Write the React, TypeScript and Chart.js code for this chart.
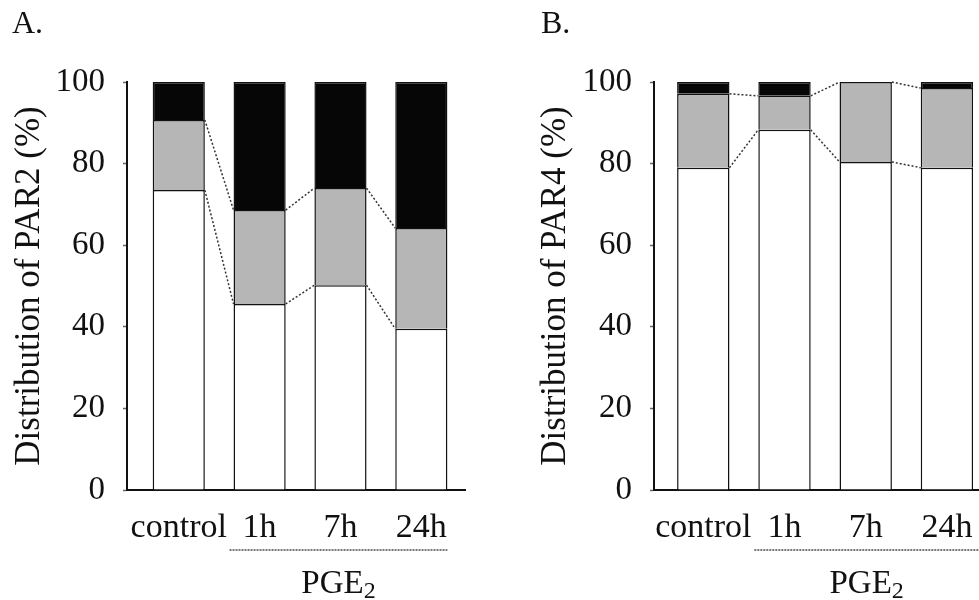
import React, { useEffect, useRef } from "react";
import { Chart, registerables } from "chart.js";
Chart.register(...registerables);

// ---- data ----
const categories = ["control", "1h", "7h", "24h"];
const tickStep = 20;
const yMin = 0;
const yMax = 100;
// PAR2 (panel A) segment percentages: white (bottom), gray (middle), black (top)
const par2White = [73.5, 45.6, 50.2, 39.5];
const par2Gray = [17.2, 23.0, 23.8, 24.7];
const par2Black = [9.3, 31.4, 26.0, 35.8];
// PAR4 (panel B)
const par4White = [79.0, 88.3, 80.4, 79.0];
const par4Gray = [18.1, 8.3, 19.6, 19.5];
const par4Black = [2.9, 3.4, 0, 1.5];
const treatmentName = "PGE";
const treatmentSub = "2";
const treatedFirst = 1;
const treatedLast = 3;

const FONT = "'Liberation Serif', 'Times New Roman', serif";
const INK = "#111111";

type PanelProps = {
  letter: string;
  yTitle: string;
  white: number[];
  gray: number[];
  black: number[];
  left: number;
  width: number;
  axisWidth: number;
  padRight: number;
  xMin: number;
  xMax: number;
  titlePad: number;
  letterX: number;
  underlineExtra: number;
};

function Panel(p: PanelProps) {
  const ref = useRef<HTMLCanvasElement | null>(null);
  useEffect(() => {
    if (!ref.current) return;
    const decor = {
      id: "decor",
      afterDatasetsDraw(chart: any) {
        const ctx = chart.ctx;
        ctx.save();
        ctx.setLineDash([2, 2]);
        ctx.strokeStyle = "#333333";
        ctx.lineWidth = 1.5;
        [0, 1].forEach((d) => {
          const els = chart.getDatasetMeta(d).data;
          for (let i = 0; i < els.length - 1; i++) {
            const a = els[i].getProps(["x", "y", "width"], true);
            const b = els[i + 1].getProps(["x", "y", "width"], true);
            ctx.beginPath();
            ctx.moveTo(a.x + a.width / 2, a.y);
            ctx.lineTo(b.x - b.width / 2, b.y);
            ctx.stroke();
          }
        });
        ctx.restore();
      },
      afterDraw(chart: any) {
        const ctx = chart.ctx;
        const xs = chart.scales.x;
        const area = chart.chartArea;
        const els = chart.getDatasetMeta(0).data;
        const half = els[0].getProps(["width"], true).width / 2;
        ctx.save();
        // panel letter
        ctx.fillStyle = INK;
        ctx.font = `32px ${FONT}`;
        ctx.textBaseline = "alphabetic";
        ctx.textAlign = "left";
        ctx.fillText(p.letter, p.letterX, 33);
        // underline for treated group
        const x1 = xs.getPixelForValue(treatedFirst) - half - 4;
        const x2 = xs.getPixelForValue(treatedLast) + half + p.underlineExtra;
        const uy = area.bottom + 60;
        ctx.strokeStyle = "#777777";
        ctx.lineWidth = 2;
        ctx.setLineDash([2, 1]);
        ctx.beginPath();
        ctx.moveTo(x1, uy);
        ctx.lineTo(x2, uy);
        ctx.stroke();
        ctx.setLineDash([]);
        // PGE2 label
        const mainFont = `33px ${FONT}`;
        const subFont = `24px ${FONT}`;
        ctx.font = mainFont;
        const w1 = ctx.measureText(treatmentName).width;
        ctx.font = subFont;
        const w2 = ctx.measureText(treatmentSub).width;
        const cx = (x1 + Math.min(x2, chart.width)) / 2;
        const sx = cx - (w1 + w2) / 2;
        const by = area.bottom + 103;
        ctx.font = mainFont;
        ctx.fillText(treatmentName, sx, by);
        ctx.font = subFont;
        ctx.fillText(treatmentSub, sx + w1, by + 5);
        ctx.restore();
      },
    };

    const mk = (arr: number[]) => arr.map((v, i) => ({ x: i, y: v }));
    const common = {
      borderColor: INK,
      borderWidth: 1.5,
      categoryPercentage: 1,
      barPercentage: 0.645,
    };
    const chart = new Chart(ref.current, {
      type: "bar",
      data: {
        datasets: [
          { label: "white", data: mk(p.white), backgroundColor: "#ffffff", ...common },
          { label: "gray", data: mk(p.gray), backgroundColor: "#b6b6b6", ...common },
          { label: "black", data: mk(p.black), backgroundColor: "#060606", ...common },
        ],
      },
      options: {
        animation: false,
        responsive: true,
        maintainAspectRatio: false,
        layout: { padding: { left: 0, right: p.padRight, top: 82, bottom: 0 } },
        plugins: { legend: { display: false }, tooltip: { enabled: false } },
        scales: {
          x: {
            type: "linear",
            stacked: true,
            offset: false,
            min: p.xMin,
            max: p.xMax,
            afterBuildTicks: (axis: any) => {
              axis.ticks = categories.map((_, i) => ({ value: i }));
            },
            afterFit: (axis: any) => {
              axis.height = 110;
              axis.paddingLeft = 0;
              axis.paddingRight = 0;
            },
            ticks: {
              autoSkip: false,
              maxRotation: 0,
              padding: 18,
              color: INK,
              font: { family: FONT, size: 34 },
              callback: (v: any) => categories[v] ?? "",
            },
            grid: { display: false, drawTicks: false },
            border: { display: true, color: INK, width: 2 },
          },
          y: {
            stacked: true,
            min: yMin,
            max: yMax,
            afterFit: (axis: any) => {
              axis.width = p.axisWidth;
              axis.paddingTop = 0;
              axis.paddingBottom = 0;
            },
            ticks: {
              stepSize: tickStep,
              padding: 18,
              color: INK,
              font: { family: FONT, size: 33 },
            },
            grid: {
              drawOnChartArea: false,
              drawTicks: true,
              tickLength: 4,
              tickColor: "#666666",
              tickWidth: 1.5,
            },
            border: { display: true, color: INK, width: 2 },
            title: {
              display: true,
              text: p.yTitle,
              color: INK,
              font: { family: FONT, size: 35 },
              padding: { top: p.titlePad, bottom: 0 },
            },
          },
        },
      },
      plugins: [decor],
    } as any);
    return () => chart.destroy();
  }, []);
  return (
    <div
      style={{
        position: "absolute",
        left: p.left,
        top: 0,
        width: p.width,
        height: 600,
      }}
    >
      <canvas ref={ref} />
    </div>
  );
}

export default function App() {
  return (
    <div
      style={{
        position: "fixed",
        left: 0,
        top: 0,
        width: 979,
        height: 600,
        background: "#ffffff",
        overflow: "hidden",
      }}
    >
      <Panel
        letter="A."
        yTitle="Distribution of PAR2 (%)"
        white={par2White}
        gray={par2Gray}
        black={par2Black}
        left={0}
        width={489}
        axisWidth={127}
        padRight={24}
        xMin={-0.64}
        xMax={3.54}
        titlePad={9}
        letterX={12}
        underlineExtra={0}
      />
      <Panel
        letter="B."
        yTitle="Distribution of PAR4 (%)"
        white={par4White}
        gray={par4Gray}
        black={par4Black}
        left={489}
        width={490}
        axisWidth={165}
        padRight={0}
        xMin={-0.607}
        xMax={3.395}
        titlePad={46}
        letterX={52}
        underlineExtra={8}
      />
    </div>
  );
}
